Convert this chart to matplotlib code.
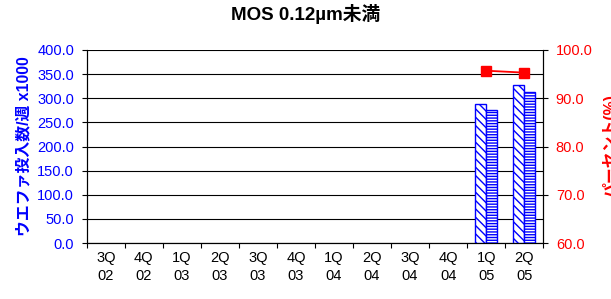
import matplotlib
matplotlib.use("Agg")
import matplotlib.pyplot as plt
import numpy as np

plt.rcParams['font.family'] = ['Liberation Sans', 'Noto Sans CJK JP', 'DejaVu Sans']
plt.rcParams['hatch.color'] = '#0000ff'
plt.rcParams['hatch.linewidth'] = 1.0

quarters = ["3Q\n02", "4Q\n02", "1Q\n03", "2Q\n03", "3Q\n03", "4Q\n03",
            "1Q\n04", "2Q\n04", "3Q\n04", "4Q\n04", "1Q\n05", "2Q\n05"]
wafers_a = [0, 0, 0, 0, 0, 0, 0, 0, 0, 0, 288, 327]
wafers_b = [0, 0, 0, 0, 0, 0, 0, 0, 0, 0, 276, 313]
percent = [np.nan] * 10 + [95.7, 95.3]

fig = plt.figure(figsize=(6.11, 2.99), dpi=100)
ax = fig.add_axes([0.142, 0.187, 0.747, 0.646])

x = np.arange(len(quarters))
w = 0.29
# empty quarters have no bar drawn at all
a = np.array(wafers_a, dtype=float)
b = np.array(wafers_b, dtype=float)
ax.bar(x[a > 0] - w / 2, a[a > 0], width=w, facecolor='white', edgecolor='#0000ff',
       hatch='\\\\\\\\', linewidth=1.0, zorder=3)
ax.bar(x[b > 0] + w / 2, b[b > 0], width=w, facecolor='white', edgecolor='#0000ff',
       hatch='------', linewidth=1.0, zorder=3)

ax.set_xlim(-0.5, len(quarters) - 0.5)
ax.set_ylim(0, 400)
ax.set_yticks(np.arange(0, 401, 50))
ax.set_yticklabels(['%.1f' % v for v in np.arange(0, 401, 50)], color='#0000ff', fontsize=10.5)
ax.yaxis.grid(True, color='black', linewidth=0.8, zorder=0)
ax.set_axisbelow(True)
ax.set_xticks(np.arange(len(quarters) + 1) - 0.5)
ax.set_xticklabels([])
ax.set_xticks(x, minor=True)
ax.set_xticklabels(quarters, minor=True, fontsize=10.5, linespacing=1.3)
ax.tick_params(axis='x', which='minor', length=0, pad=6)
ax.tick_params(axis='x', which='major', length=3.6, direction='out')
ax.tick_params(axis='y', length=3.6, direction='out', pad=5.5)
ax.set_ylabel('ウエファ投入数/週 x1000', color='#0000ff', fontsize=11.4,
              fontweight='bold', labelpad=4)
for s in ax.spines.values():
    s.set_color('black')
ax.spines['top'].set_visible(False)

ax2 = ax.twinx()
ax2.plot(x, percent, color='red', marker='s', markersize=7, linewidth=1.3)
ax2.set_ylim(60, 100)
ax2.set_yticks(np.arange(60, 101, 10))
ax2.set_yticklabels(['%.1f' % v for v in np.arange(60, 101, 10)], color='red', fontsize=10.5)
ax2.tick_params(axis='y', length=3.6, direction='out', pad=5.5)
ax2.set_ylabel('パーセント(%)', color='red', fontsize=11.4, fontweight='bold',
               rotation=90, labelpad=7)
ax2.spines['top'].set_visible(False)

fig.suptitle('MOS 0.12µm未満', fontsize=13.5, fontweight='bold', y=0.985)

fig.savefig('out.png', dpi=100)
